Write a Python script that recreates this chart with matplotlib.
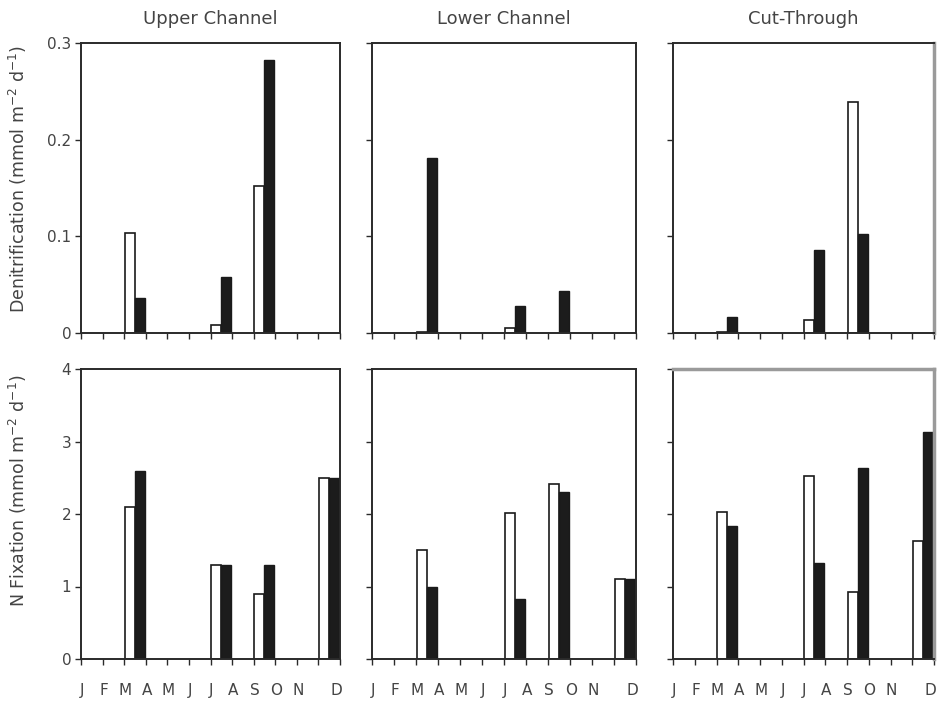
import numpy as np
import matplotlib
matplotlib.use("Agg")
import matplotlib.pyplot as plt

nan = np.nan
months = ["J", "F", "M", "A", "M", "J", "J", "A", "S", "O", "N", "D"]
sites = ["Upper Channel", "Lower Channel", "Cut-Through"]

# Denitrification (mmol m-2 d-1): open bars / filled bars
upper_denit_open = [nan, nan, 0.103, nan, nan, nan, 0.008, nan, 0.152, nan, nan, nan]
upper_denit_fill = [nan, nan, 0.036, nan, nan, nan, 0.058, nan, 0.282, nan, nan, nan]
lower_denit_open = [nan, nan, 0.001, nan, nan, nan, 0.005, nan, nan, nan, nan, nan]
lower_denit_fill = [nan, nan, 0.181, nan, nan, nan, 0.028, nan, 0.043, nan, nan, nan]
cut_denit_open = [nan, nan, 0.001, nan, nan, nan, 0.013, nan, 0.239, nan, nan, nan]
cut_denit_fill = [nan, nan, 0.017, nan, nan, nan, 0.086, nan, 0.102, nan, nan, nan]

# N fixation (mmol m-2 d-1): open bars / filled bars
upper_nfix_open = [nan, nan, 2.10, nan, nan, nan, 1.30, nan, 0.90, nan, nan, 2.49]
upper_nfix_fill = [nan, nan, 2.60, nan, nan, nan, 1.30, nan, 1.30, nan, nan, 2.49]
lower_nfix_open = [nan, nan, 1.51, nan, nan, nan, 2.01, nan, 2.41, nan, nan, 1.11]
lower_nfix_fill = [nan, nan, 1.00, nan, nan, nan, 0.83, nan, 2.30, nan, nan, 1.11]
cut_nfix_open = [nan, nan, 2.03, nan, nan, nan, 2.53, nan, 0.93, nan, nan, 1.63]
cut_nfix_fill = [nan, nan, 1.83, nan, nan, nan, 1.33, nan, 2.63, nan, nan, 3.13]

denit_open = [upper_denit_open, lower_denit_open, cut_denit_open]
denit_fill = [upper_denit_fill, lower_denit_fill, cut_denit_fill]
nfix_open = [upper_nfix_open, lower_nfix_open, cut_nfix_open]
nfix_fill = [upper_nfix_fill, lower_nfix_fill, cut_nfix_fill]

denit_ticks = [0, 0.1, 0.2, 0.3]
denit_ticklabels = ["0", "0.1", "0.2", "0.3"]
nfix_ticks = [0, 1, 2, 3, 4]
nfix_ticklabels = ["0", "1", "2", "3", "4"]

plt.rcParams['font.family'] = ['DejaVu Sans']
W, H = 939, 704
fig = plt.figure(figsize=(W / 100, H / 100), dpi=100)

col_px = [(81, 340), (372, 636), (673, 934)]
row_px = [(43, 333), (369, 659)]

txt_col = "#444444"
spine_col = "#2a2a2a"
x = np.arange(12)
label_pos = list(np.arange(11) + 0.04) + [11.82]

for r in range(2):
    for c in range(3):
        l, rr = col_px[c]
        t, b = row_px[r]
        ax = fig.add_axes([l / W, (H - b) / H, (rr - l) / W, (b - t) / H])
        if r == 0:
            ov, fv = denit_open[c], denit_fill[c]
            ax.set_ylim(0, 0.3)
            ax.set_yticks(denit_ticks)
            ax.set_yticklabels(denit_ticklabels if c == 0 else [])
        else:
            ov, fv = nfix_open[c], nfix_fill[c]
            ax.set_ylim(0, 4)
            ax.set_yticks(nfix_ticks)
            ax.set_yticklabels(nfix_ticklabels if c == 0 else [])
        ax.bar(x + 0.03, ov, width=0.47, align='edge', color='white',
               edgecolor='#1a1a1a', linewidth=1.2, zorder=2)
        ax.bar(x + 0.5, fv, width=0.46, align='edge', color='#1c1c1c',
               edgecolor='#1a1a1a', linewidth=1.0, zorder=2)
        ax.set_xlim(0, 12)
        ax.set_xticks(np.arange(13))
        ax.set_xticklabels([])
        if r == 1:
            ax.set_xticks(label_pos, minor=True)
            ax.set_xticklabels(months, minor=True)
            ax.tick_params(axis='x', which='minor', length=0, pad=17,
                           labelsize=11, labelcolor=txt_col)
        ax.tick_params(axis='x', which='major', direction='out', length=4,
                       width=1.0, color=spine_col)
        ax.tick_params(axis='y', direction='out', length=4, width=1.0,
                       color=spine_col, labelsize=11, labelcolor=txt_col, pad=3)
        for s in ax.spines.values():
            s.set_color(spine_col)
            s.set_linewidth(1.4)
        if c == 2:
            ax.spines['right'].set_color('#9a9a9a')
            ax.spines['right'].set_linewidth(2.5)
            if r == 1:
                ax.spines['top'].set_color('#9a9a9a')
                ax.spines['top'].set_linewidth(2.5)
        if r == 0:
            ax.set_title(sites[c], fontsize=13, color=txt_col, pad=14)
        if c == 0:
            if r == 0:
                ax.set_ylabel(r"Denitrification (mmol m$^{-2}$ d$^{-1}$)",
                              fontsize=12.5, color=txt_col)
                ax.yaxis.set_label_coords(-0.2, 0.53)
            else:
                ax.set_ylabel(r"N Fixation (mmol m$^{-2}$ d$^{-1}$)",
                              fontsize=12.5, color=txt_col)
                ax.yaxis.set_label_coords(-0.2, 0.58)

fig.savefig("out.png", dpi=100, facecolor='white')
